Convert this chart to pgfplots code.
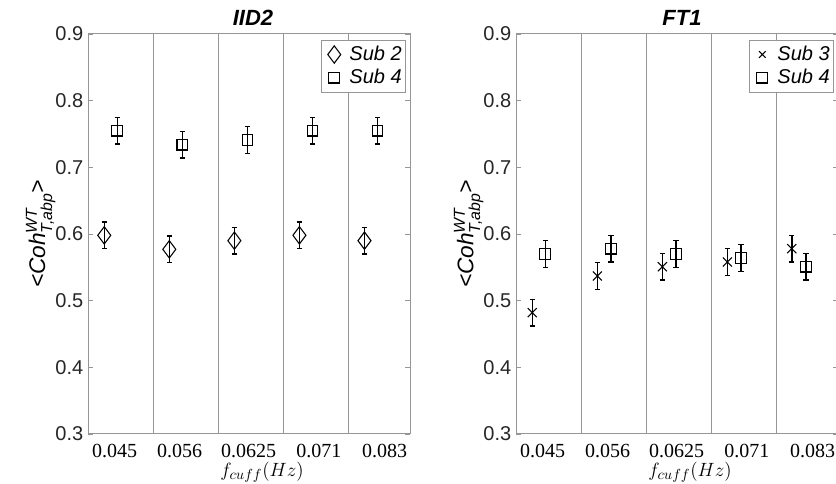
\documentclass[border=0pt]{standalone}
\usepackage{pgfplots}
\pgfplotsset{compat=1.18}
\usepackage{amsmath}
\usepackage{fontspec}
\setmainfont{Liberation Sans}
\newfontfamily\serifnum{Liberation Serif}
\definecolor{axgray}{RGB}{150,150,150}
\definecolor{txt}{RGB}{38,38,38}

\pgfplotstableread{
x y e
-0.25 0.598 0.02
0.75 0.577 0.02
1.75 0.590 0.02
2.75 0.598 0.02
3.75 0.590 0.02
}\iidsubtwo
\pgfplotstableread{
x y e
-0.05 0.755 0.02
0.95 0.734 0.02
1.95 0.741 0.02
2.95 0.755 0.02
3.95 0.755 0.02
}\iidsubfour
\pgfplotstableread{
x y e
-0.25 0.482 0.02
0.75 0.537 0.02
1.75 0.551 0.02
2.75 0.558 0.02
3.74 0.578 0.02
}\ftsubthree
\pgfplotstableread{
x y e
-0.05 0.570 0.02
0.96 0.578 0.02
1.96 0.570 0.02
2.96 0.564 0.02
3.96 0.551 0.02
}\ftsubfour

\pgfplotsset{
  myax/.style={
    scale only axis, width=241.5pt, height=300pt, anchor=south west,
    xmin=-0.5, xmax=4.45, ymin=0.3, ymax=0.9,
    ytick={0.3,0.4,0.5,0.6,0.7,0.8,0.9},
    /pgf/number format/assume math mode=true,
    yticklabel style={/pgf/number format/fixed, /pgf/number format/fixed zerofill, /pgf/number format/precision=1, font=\fontsize{15}{17}\selectfont, text=txt},
    xtick={-0.09,0.91,1.97,3.05,4.06},
    xticklabels={0.045,0.056,0.0625,0.071,0.083},
    xticklabel style={font=\serifnum\fontsize{15}{17}\selectfont, text=black, yshift=-4pt},
    x tick style={draw=none},
    ytick pos=both,
    tick align=inside,
    major tick length=4pt,
    y tick style={axgray, line width=0.6pt},
    axis line style={axgray, line width=0.75pt},
    major grid style={axgray, line width=0.75pt},
    extra x ticks={0.5,1.5,2.5,3.5}, extra x tick labels={},
    extra x tick style={grid=major, x tick style={draw=none}},
    ylabel style={at={(axis description cs:0,0.5)}, anchor=center, yshift=35.5pt, font=\itshape\fontsize{17}{19}\selectfont, text=black},
    xlabel style={at={(axis description cs:0.5,0)}, anchor=center, xshift=9.75pt, yshift=-28.5pt, font=\fontsize{15.5}{17}\selectfont},
    legend style={at={(1,1)}, anchor=north east, xshift=-3pt, yshift=-4.5pt, draw=axgray, font=\itshape\fontsize{15}{17}\selectfont, row sep=1pt, inner ysep=2.5pt, inner xsep=1pt},
    legend cell align=left,
    legend image code/.code={\path (0pt,0pt) (17pt,0pt); \draw[#1] plot coordinates {(8pt,0pt)};},
    ylabel={<Coh$^{\text{WT}}_{\text{T,abp}}$>},
    xlabel={$f_{cuff}(Hz)$},
  },
  ebar/.style={only marks, black, line width=0.8pt,
    error bars/y dir=both, error bars/y explicit,
    error bars/error bar style={line width=1.1pt, black},
    error bars/error mark options={rotate=90, mark size=2pt, line width=0.8pt, black}},
}

\begin{document}
\begin{tikzpicture}
\begin{axis}[myax, at={(66pt,37.5pt)}]
\addplot[ebar, mark=diamond, mark size=6.5pt, legend image post style={mark size=6.5pt}] table[x=x, y=y, y error=e] {\iidsubtwo};
\addlegendentry{Sub 2}
\addplot[ebar, mark=square, mark size=4pt, legend image post style={mark size=4pt}] table[x=x, y=y, y error=e] {\iidsubfour};
\addlegendentry{Sub 4}
\end{axis}
\begin{axis}[myax, at={(387pt,37.5pt)}]
\addplot[ebar, mark=x, mark size=4.8pt, legend image post style={mark size=3.5pt}] table[x=x, y=y, y error=e] {\ftsubthree};
\addlegendentry{Sub 3}
\addplot[ebar, mark=square, mark size=4pt, legend image post style={mark size=4pt}] table[x=x, y=y, y error=e] {\ftsubfour};
\addlegendentry{Sub 4}
\end{axis}
\node[font=\bfseries\itshape\fontsize{16.5}{18}\selectfont, anchor=center, inner sep=0pt] at (189.75pt,349.5pt) {IID2};
\node[font=\bfseries\itshape\fontsize{16.5}{18}\selectfont, anchor=center, inner sep=0pt] at (511.5pt,349.5pt) {FT1};
\pgfresetboundingbox
\useasboundingbox (0,0) rectangle (627pt,363pt);
\end{tikzpicture}
\end{document}
